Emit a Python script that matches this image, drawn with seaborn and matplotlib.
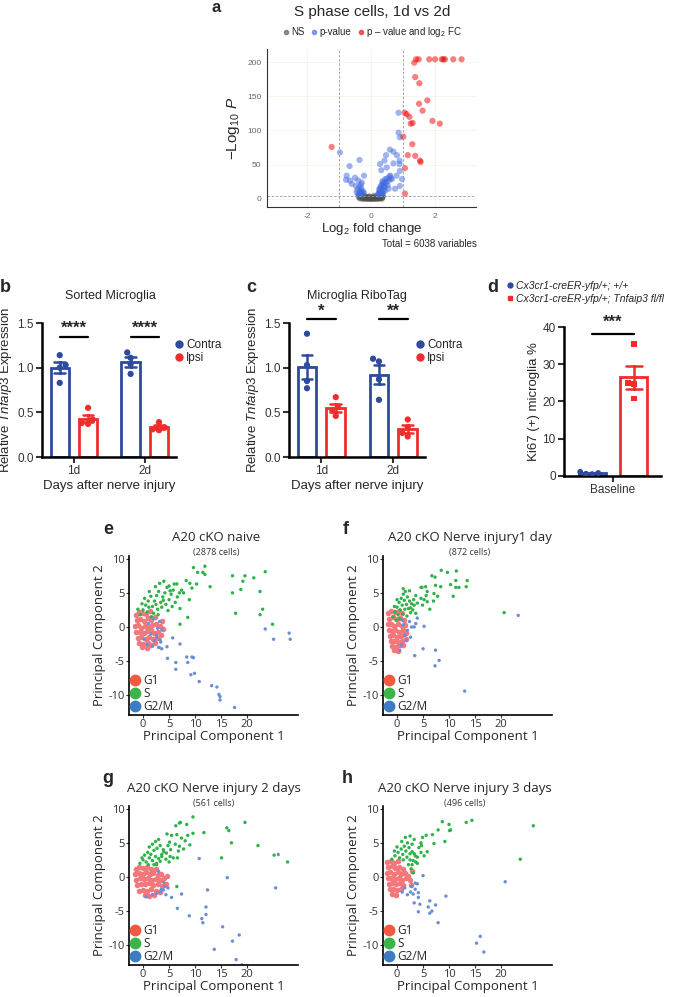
import numpy as np
import pandas as pd
import seaborn as sns
import matplotlib
matplotlib.use('Agg')
from matplotlib import pyplot as plt
from matplotlib.lines import Line2D

# ---------------- data ----------------
# a: volcano (log2 fold change, -log10 p)
ns_pts = [(-0.36, 1.2), (-0.33, 2.8), (-0.3, 0.5), (-0.28, 3.9), (-0.26, 1.8), (-0.24, 0.3), (-0.22, 2.5),
          (-0.2, 4.4), (-0.18, 1.1), (-0.16, 0.2), (-0.14, 3.0), (-0.12, 0.8), (-0.1, 1.9), (-0.08, 0.1),
          (-0.06, 2.6), (-0.04, 0.6), (-0.02, 1.4), (0.0, 0.2), (0.02, 0.9), (0.04, 2.1), (0.06, 0.4),
          (0.08, 1.5), (0.1, 0.1), (0.12, 3.2), (0.14, 0.7), (0.16, 1.9), (0.18, 0.3), (0.2, 2.7), (0.22, 1.0),
          (0.24, 4.1), (0.26, 0.5), (0.28, 2.0), (0.3, 3.5), (0.32, 1.3), (0.34, 0.4), (0.36, 2.4),
          (-0.38, 3.3), (0.38, 4.5), (-0.05, 3.8), (0.09, 4.6), (-0.31, 4.7), (0.27, 1.6)]
pval_pts = [(-0.97, 68), (-0.36, 57), (-0.67, 48), (0.86, 126), (0.86, 97), (0.9, 90), (0.59, 72), (0.7, 69),
            (0.47, 64), (0.81, 64), (0.42, 56), (0.89, 56), (0.89, 51), (0.28, 51), (0.7, 52), (0.49, 46),
            (0.32, 42), (0.9, 41), (0.8, 34), (0.6, 34), (0.65, 29), (0.44, 29), (0.36, 24), (0.39, 19),
            (0.97, 29), (0.9, 19), (0.55, 15), (0.75, 15), (-0.76, 34), (-0.22, 34), (-0.5, 31), (-0.78, 28),
            (-0.66, 27), (-0.4, 27), (-0.29, 24), (-0.47, 19), (-0.6, 22),
            (-0.38, 6), (-0.35, 9), (-0.33, 12), (-0.3, 15), (-0.28, 8), (-0.25, 11), (-0.36, 18), (-0.31, 21),
            (-0.4, 7), (-0.27, 6), (-0.22, 9), (-0.45, 10), (-0.42, 14), (-0.33, 7), (-0.3, 10),
            (0.22, 6), (0.25, 9), (0.28, 12), (0.3, 16), (0.33, 20), (0.35, 8), (0.38, 11), (0.4, 14), (0.42, 18),
            (0.45, 22), (0.27, 7), (0.31, 10), (0.36, 26), (0.48, 25), (0.5, 30), (0.52, 20), (0.25, 14),
            (0.55, 27), (0.58, 33), (0.62, 30), (0.23, 8), (0.34, 6), (0.44, 12), (0.29, 18), (0.39, 22)]
fc_pts = [(2.83, 204), (2.57, 204), (2.31, 204), (2.26, 204), (2.21, 204), (2.0, 204), (1.82, 204),
          (1.49, 204), (1.41, 204), (1.35, 199), (1.38, 178), (1.51, 169), (1.76, 144), (1.5, 139),
          (1.61, 129), (1.05, 126), (1.11, 124), (1.2, 120), (1.24, 110), (1.3, 111), (1.92, 114),
          (2.15, 110), (1.01, 91), (1.29, 80), (1.15, 64), (1.38, 63), (1.53, 56), (1.55, 54), (1.06, 45),
          (1.06, 8), (-1.23, 76)]

# b, c: relative Tnfaip3 expression
days = ['1d', '2d']
b_contra = [[1.14, 1.03, 1.00, 0.83], [1.17, 1.11, 1.04, 0.93]]
b_ipsi = [[0.55, 0.42, 0.38, 0.37], [0.39, 0.33, 0.31, 0.30]]
c_contra = [[1.38, 1.03, 0.85, 0.77], [1.10, 1.07, 0.87, 0.64]]
c_ipsi = [[0.67, 0.56, 0.52, 0.46], [0.42, 0.33, 0.27, 0.23]]
b_stars = ['****', '****']
c_stars = ['*', '**']

# d: Ki67+ microglia
d_wt = [1.1, 0.8, 0.6, 0.5]
d_cko = [35.4, 25.0, 24.6, 20.8]

# e-h: PCA of cell-cycle phases (PC1, PC2)
e_g1 = [(-1.4, 1.8), (-0.8, 2.2), (-0.2, 2.0), (0.6, 1.9), (1.3, 2.3), (-1.2, 1.0), (-0.5, 1.2), (0.2, 0.9),
        (0.9, 1.3), (1.6, 1.0), (2.3, 1.5), (-1.5, 0.2), (-0.9, 0.3), (-0.3, -0.1), (0.4, 0.2), (1.1, 0.0),
        (1.8, 0.3), (2.5, 0.4), (3.2, 0.1), (-1.3, -0.7), (-0.6, -0.8), (0.1, -0.9), (0.8, -0.6), (1.5, -0.5),
        (2.2, -0.9), (2.9, -0.7), (-1.0, -1.6), (-0.3, -1.5), (0.5, -1.7), (1.2, -1.4), (1.9, -1.8),
        (2.6, -1.6), (-0.7, -2.4), (0.0, -2.5), (0.9, -2.3), (1.6, -2.6), (2.3, -2.4), (-0.2, -3.0),
        (0.7, -3.1), (3.5, -1.2), (3.8, -0.3), (3.6, 0.9)]
e_s = [(9.7, 8.7), (11.9, 8.9), (10.5, 8.0), (11.5, 8.0), (11.9, 7.7), (8.3, 6.8), (6.5, 6.3), (9.0, 6.4),
       (10.3, 6.3), (9.4, 5.7), (7.4, 5.4), (7.8, 5.0), (12.9, 5.9), (8.9, 4.0), (7.1, 2.7), (8.6, 1.4),
       (7.1, 0.4), (17.2, 7.5), (19.6, 7.5), (19.2, 6.7), (21.3, 7.2), (23.5, 8.1), (17.2, 5.0), (18.8, 5.5),
       (22.5, 5.2), (23.0, 2.6), (22.5, 1.8), (17.8, 2.0), (24.9, 0.4),
       (0.0, 2.5), (0.5, 3.2), (1.0, 3.8), (1.5, 4.5), (0.8, 2.2), (1.8, 3.0), (2.2, 3.8), (2.6, 4.6),
       (3.0, 5.2), (3.4, 3.6), (3.8, 4.4), (4.2, 5.0), (4.6, 5.8), (2.0, 2.0), (2.8, 2.6), (3.6, 2.9),
       (4.4, 3.3), (5.0, 4.0), (5.4, 4.8), (5.8, 5.4), (6.2, 3.6), (6.6, 4.4), (-0.5, 1.8), (-1.0, 2.6),
       (0.3, 4.2), (1.2, 5.2), (2.4, 5.9), (3.2, 6.4), (4.0, 6.7), (5.0, 6.0), (5.6, 3.0), (4.8, 2.4),
       (1.6, 1.5), (2.9, 1.8), (6.0, 6.3), (7.0, 5.0), (-0.2, 3.4), (1.1, 2.9), (2.5, 3.3), (3.9, 3.9),
       (5.2, 5.3)]
e_g2m = [(5.7, -1.6), (7.1, -2.5), (3.1, -3.0), (3.6, -3.2), (4.6, -2.9), (4.7, -4.6), (6.3, -5.2),
         (8.4, -4.4), (9.4, -4.4), (9.7, -4.5), (8.6, -5.2), (6.3, -6.2), (9.2, -7.0), (9.9, -6.8),
         (10.8, -8.0), (13.2, -8.6), (14.2, -8.8), (14.6, -9.9), (14.8, -10.2), (14.8, -10.7), (17.6, -11.8),
         (23.5, -0.3), (25.1, -1.8), (28.1, -0.9), (28.3, -1.8), (2.6, -1.2), (3.6, -0.4), (3.3, -1.9),
         (1.5, -1.0), (2.2, -2.0), (0.8, -2.6), (2.8, -0.2), (3.2, 0.8), (1.0, 0.5), (2.0, 1.2), (2.6, -1.5),
         (0.2, -1.8), (3.4, -2.2), (1.8, -2.8), (3.0, -3.0)]

f_g1 = [(-1.7, 2.0), (-1.1, 2.4), (-0.4, 2.2), (0.3, 2.3), (1.0, 2.0), (-1.5, 1.2), (-0.8, 1.4), (-0.1, 1.1),
        (0.6, 1.3), (1.3, 1.0), (-1.8, 0.4), (-1.2, 0.5), (-0.5, 0.2), (0.2, 0.4), (0.9, 0.1), (1.5, 0.3),
        (-1.6, -0.4), (-1.0, -0.6), (-0.3, -0.5), (0.4, -0.7), (1.1, -0.4), (-1.4, -1.3), (-0.7, -1.2),
        (0.0, -1.4), (0.7, -1.3), (1.4, -1.1), (-1.2, -2.1), (-0.5, -2.0), (0.2, -2.2), (0.9, -2.0),
        (-0.9, -2.8), (-0.2, -2.9), (0.5, -2.7), (-0.5, -3.4), (0.2, -3.5), (1.2, -2.6), (1.8, -1.8),
        (1.7, -0.9)]
f_s = [(8.5, 8.3), (9.7, 8.0), (11.4, 8.2), (6.7, 7.5), (7.3, 7.3), (11.3, 6.8), (13.5, 6.8), (4.6, 5.8),
       (4.8, 5.8), (5.5, 5.9), (7.4, 6.1), (8.4, 5.9), (10.3, 6.2), (11.3, 5.8), (11.9, 5.8), (13.3, 5.9),
       (5.8, 5.2), (7.1, 4.9), (5.6, 4.6), (7.8, 4.5), (10.8, 4.5), (4.6, 4.2), (5.2, 4.0), (5.8, 3.7),
       (7.0, 3.8), (3.9, 3.5), (3.3, 3.2), (4.9, 3.2), (6.3, 2.6), (3.6, 2.0), (3.0, 2.5), (2.6, 2.8),
       (20.6, 2.1),
       (-0.8, 1.5), (-0.4, 2.2), (0.0, 2.9), (0.4, 3.6), (0.8, 4.2), (1.2, 4.8), (1.6, 5.2), (2.0, 4.4),
       (2.4, 3.8), (0.2, 1.8), (0.6, 2.5), (1.0, 3.2), (1.4, 3.9), (1.8, 3.3), (2.2, 2.7), (2.6, 2.1),
       (1.1, 1.9), (1.5, 2.6), (1.9, 1.6), (0.5, 1.2), (-0.2, 1.0), (2.8, 3.4), (3.2, 4.0), (3.6, 4.6),
       (2.4, 5.3), (1.2, 5.6), (0.0, 4.0), (-0.5, 3.0)]
f_g2m = [(23.3, 1.7), (5.2, 0.1), (5.0, -3.2), (7.4, -3.4), (3.4, -4.2), (8.1, -4.9), (7.3, -5.7),
         (13.0, -9.4), (3.6, 0.5), (3.3, 0.0), (3.9, 1.3), (1.5, -1.2), (2.0, -0.5), (1.2, 0.3), (2.4, 0.8),
         (1.8, -2.0), (0.8, -2.6), (2.6, -1.5), (1.0, 1.0), (2.8, 0.0), (0.5, -3.4)]

g_g1 = [(-1.4, 1.2), (-0.7, 1.4), (0.0, 1.3), (0.8, 1.5), (1.6, 1.2), (2.4, 1.1), (-1.5, 0.4), (-0.8, 0.6),
        (-0.1, 0.5), (0.6, 0.7), (1.3, 0.4), (2.0, 0.6), (2.8, 0.3), (3.5, 0.5), (-1.3, -0.4), (-0.6, -0.2),
        (0.1, -0.3), (0.9, -0.1), (1.7, -0.4), (2.5, -0.3), (3.3, -0.5), (4.0, -0.2), (-1.1, -1.2),
        (-0.4, -1.0), (0.4, -1.1), (1.2, -0.9), (2.0, -1.2), (2.8, -1.0), (3.6, -1.3), (-0.8, -2.0),
        (0.0, -1.9), (0.8, -2.1), (1.6, -1.8), (2.4, -2.0), (3.2, -2.2), (0.3, -2.7), (1.2, -2.8),
        (2.1, -2.6), (4.4, -1.0), (4.6, 0.2)]
g_s = [(9.6, 8.8), (7.2, 8.0), (7.0, 7.9), (8.4, 7.7), (6.3, 7.5), (11.7, 6.5), (4.6, 6.3), (5.5, 6.1),
       (6.5, 6.2), (8.6, 6.1), (9.6, 6.4), (7.4, 5.7), (8.1, 5.3), (9.0, 4.7), (5.1, 5.1), (6.2, 4.8),
       (7.0, 4.5), (5.3, 4.0), (4.0, 3.7), (6.8, 3.8), (7.8, 4.1), (5.2, 3.0), (5.8, 2.8), (4.4, 2.6),
       (3.6, 3.0), (6.6, 2.8), (2.6, 2.0), (3.3, 2.3), (2.1, 1.8), (6.5, -1.4), (15.1, 2.8), (16.1, 7.2),
       (16.5, 6.8), (19.6, 8.0), (17.0, 5.0), (22.1, 4.6), (25.2, 3.2), (27.8, 2.2),
       (-0.6, 2.0), (0.0, 2.5), (0.6, 2.2), (1.2, 2.8), (1.8, 2.4), (2.4, 3.0), (3.0, 2.7), (3.6, 3.3),
       (0.3, 3.2), (0.9, 3.6), (1.5, 3.3), (2.1, 3.9), (2.7, 4.2), (3.3, 4.6), (3.9, 4.0), (4.5, 3.5),
       (1.2, 4.4), (1.8, 4.8), (2.4, 5.2), (3.0, 5.5), (-0.2, 2.8), (4.8, 4.6), (5.0, 2.2), (2.6, 1.8),
       (1.0, 1.8)]
g_g2m = [(26.0, 3.3), (10.8, 2.7), (16.2, -0.1), (25.5, -1.6), (12.4, -1.9), (7.4, -2.5), (5.5, -3.0),
         (3.3, -2.2), (3.9, -1.9), (4.2, -1.4), (6.6, -4.6), (12.1, -4.4), (8.9, -5.7), (11.3, -6.1),
         (11.5, -6.7), (12.1, -5.5), (15.3, -7.3), (18.5, -8.5), (17.2, -9.4), (13.7, -10.6), (17.9, -12.1),
         (19.0, -12.9), (3.5, -1.8), (4.0, -0.8), (2.6, -2.4), (4.4, -2.6), (3.0, 0.8), (1.8, -2.6),
         (4.8, -1.6), (0.6, -2.9)]

h_g1 = [(-1.9, 2.2), (-1.2, 2.4), (-0.5, 2.1), (0.2, 2.3), (-1.7, 1.4), (-1.0, 1.6), (-0.3, 1.3), (0.4, 1.5),
        (1.1, 1.2), (-2.0, 0.6), (-1.3, 0.7), (-0.6, 0.5), (0.1, 0.7), (0.8, 0.4), (1.5, 0.6), (2.2, 0.2),
        (-1.8, -0.2), (-1.1, -0.1), (-0.4, -0.3), (0.3, -0.1), (1.0, -0.4), (1.7, -0.2), (2.5, -0.5),
        (-1.6, -1.0), (-0.9, -0.9), (-0.2, -1.1), (0.5, -0.9), (1.2, -1.2), (-1.4, -1.8), (-0.7, -1.7),
        (0.0, -1.9), (0.7, -1.8), (-0.9, -2.5), (-0.2, -2.6), (2.8, 0.9), (2.6, -1.2)]
h_s = [(8.7, 8.1), (10.0, 7.7), (10.3, 6.9), (10.1, 6.8), (13.3, 8.0), (14.4, 8.3), (7.9, 6.9), (26.2, 7.5),
       (5.6, 6.1), (6.8, 6.2), (4.9, 5.8), (9.2, 5.2), (7.1, 4.9), (4.6, 5.0), (4.7, 4.6), (4.2, 4.3),
       (5.8, 3.7), (4.6, 3.6), (2.9, 3.7), (3.3, 3.4), (3.5, 3.1), (3.9, 2.9), (5.2, 3.1), (3.9, 2.0),
       (3.6, 2.2), (23.7, 2.6), (2.5, 2.5), (2.9, 1.8), (2.7, 1.2), (3.1, 0.6),
       (-1.0, 2.6), (-0.4, 3.1), (0.2, 3.6), (0.8, 4.1), (1.4, 4.5), (2.0, 5.0), (0.5, 2.8), (1.1, 3.3),
       (1.7, 3.8), (2.3, 4.3), (2.9, 4.8), (0.0, 4.4), (0.9, 5.2), (1.6, 5.8), (2.5, 6.0), (1.2, 2.5),
       (1.9, 2.9), (2.5, 3.4), (3.1, 2.4), (-0.5, 3.8), (2.2, 1.8), (3.3, 5.5)]
h_g2m = [(20.8, -0.7), (5.0, 0.2), (3.5, -0.9), (3.9, -1.0), (2.8, -1.4), (3.5, -1.8), (4.1, -2.3),
         (3.1, -2.5), (2.6, -2.2), (9.4, -2.8), (4.1, -3.0), (6.3, -3.5), (7.4, -4.1), (3.3, -3.8),
         (4.4, -4.0), (6.0, -4.4), (6.7, -5.0), (6.3, -5.3), (4.1, -5.1), (7.9, -6.7), (16.0, -8.7),
         (15.3, -9.7), (16.7, -11.0), (1.5, -1.6), (2.0, -2.6), (1.0, -2.2)]

# ---------------- style ----------------
sns.set_style('white')
plt.rcParams['font.family'] = ['Liberation Sans', 'DejaVu Sans']
plt.rcParams['mathtext.fontset'] = 'custom'
plt.rcParams['mathtext.rm'] = 'Liberation Sans'
plt.rcParams['mathtext.it'] = 'Liberation Sans:italic'
plt.rcParams['mathtext.bf'] = 'Liberation Sans:bold'
plt.rcParams['axes.unicode_minus'] = False

W, H = 688, 997
fig = plt.figure(figsize=(W / 100, H / 100), dpi=100)


def px_axes(l, t, r, b):
    return fig.add_axes([l / W, 1 - b / H, (r - l) / W, (b - t) / H])


def fpx(x, y):
    return (x / W, 1 - y / H)


def label(x, y, s, size=13):
    fig.text(*fpx(x, y), s, fontsize=size, fontweight='bold', ha='center', va='center')


blue = '#2d4a9c'
red = '#ee2d2d'

# ---------------- a ----------------
ax = px_axes(267, 49, 476, 207)
vol = pd.concat([
    pd.DataFrame(ns_pts, columns=['fc', 'p']).assign(grp='NS'),
    pd.DataFrame(pval_pts, columns=['fc', 'p']).assign(grp='p-value'),
    pd.DataFrame(fc_pts, columns=['fc', 'p']).assign(grp='both'),
])
vol_pal = {'NS': '#4d4d4d', 'p-value': '#4169e1', 'both': '#ee0000'}
ax.grid(True, color='#f3f3e6', lw=0.5)
ax.set_axisbelow(True)
sns.scatterplot(data=vol, x='fc', y='p', hue='grp', palette=vol_pal, alpha=0.5, s=20,
                linewidth=0, legend=False, ax=ax)
ax.axvline(-1, color='#999999', lw=0.6, ls=(0, (3, 2)))
ax.axvline(1, color='#999999', lw=0.6, ls=(0, (3, 2)))
ax.axhline(5, color='#999999', lw=0.6, ls=(0, (3, 2)))
ax.set_xlim(-3.25, 3.28)
ax.set_ylim(-11.7, 219)
ax.set_xticks([-2, 0, 2])
ax.set_yticks([0, 50, 100, 150, 200])
for sp in ['top', 'right']:
    ax.spines[sp].set_visible(False)
for sp in ['left', 'bottom']:
    ax.spines[sp].set_color('#333333')
    ax.spines[sp].set_linewidth(0.8)
ax.tick_params(labelsize=6, colors='#666666', length=2, width=0.6, pad=2)
ax.set_xlabel('Log$_2$ fold change', fontsize=9.5, labelpad=1)
ax.set_ylabel('\u2212Log$_{10}$ $P$', fontsize=11, labelpad=4)
leg_h = [Line2D([], [], marker='o', ls='', color=vol_pal[k], alpha=0.6, markersize=3, label=t)
         for k, t in [('NS', 'NS'), ('p-value', 'p-value'), ('both', 'p \u2013 value and log$_2$ FC')]]
fig.legend(handles=leg_h, loc='center', bbox_to_anchor=fpx(372, 32), ncol=3, frameon=False, fontsize=7,
           handletextpad=0.1, columnspacing=0.6, handlelength=0.8, borderpad=0)
fig.text(*fpx(372, 12), 'S phase cells, 1d vs 2d', fontsize=11, ha='center', va='center')
fig.text(*fpx(477, 244), 'Total = 6038 variables', fontsize=7, ha='right', va='center')
label(216, 7, 'a', 12)


# ---------------- b, c ----------------
def bar_panel(ax, contra, ipsi, stars, line_y, star_y, title, title_x, legend_x):
    rows = []
    for d, cv, iv in zip(days, contra, ipsi):
        rows += [(d, 'Contra', v) for v in cv] + [(d, 'Ipsi', v) for v in iv]
    df = pd.DataFrame(rows, columns=['day', 'side', 'val'])
    pal = {'Contra': blue, 'Ipsi': red}
    sns.barplot(data=df, x='day', y='val', hue='side', hue_order=['Contra', 'Ipsi'], palette=pal,
                fill=False, errorbar='se', capsize=0.3, gap=0.35, linewidth=2, err_kws={'linewidth': 1.8},
                legend=False, ax=ax)
    sns.swarmplot(data=df, x='day', y='val', hue='side', hue_order=['Contra', 'Ipsi'], palette=pal,
                  dodge=True, size=4.5, legend=False, ax=ax)
    ax.set_xlim(-0.45, 1.44)
    ax.set_ylim(0, 1.5)
    ax.set_yticks([0, 0.5, 1.0, 1.5])
    ax.set_yticklabels(['0.0', '0.5', '1.0', '1.5'])
    for i, st in enumerate(stars):
        ax.plot([i - 0.2, i + 0.2], [line_y, line_y], color='black', lw=1.6, clip_on=False)
        ax.text(i, star_y, st, ha='center', va='center', fontsize=12, fontweight='bold')
    for sp in ['top', 'right']:
        ax.spines[sp].set_visible(False)
    for sp in ['left', 'bottom']:
        ax.spines[sp].set_color('black')
        ax.spines[sp].set_linewidth(1.8)
    ax.tick_params(labelsize=8.5, colors='#333333', length=4, width=1.5, direction='out', pad=2,
                   left=True, bottom=True)
    ax.set_xlabel('Days after nerve injury', fontsize=9.5, labelpad=2)
    ax.set_ylabel(r'Relative $\it{Tnfaip3}$ Expression', fontsize=9.5, labelpad=2)
    fig.text(*fpx(title_x, 296), title, fontsize=9, ha='center', va='center')
    hs = [Line2D([], [], marker='o', ls='', color=pal[k], markersize=5, label=k) for k in pal]
    fig.legend(handles=hs, loc='upper left', bbox_to_anchor=fpx(legend_x, 339), frameon=False,
               fontsize=8.5, handletextpad=0.1, labelspacing=0.1, borderpad=0, borderaxespad=0,
               handlelength=1.0)


ax = px_axes(42, 323, 176, 457)
bar_panel(ax, b_contra, b_ipsi, b_stars, 1.34, 1.44, 'Sorted Microglia', 110, 173)
label(5, 287, 'b')

ax = px_axes(289, 323, 425, 457)
bar_panel(ax, c_contra, c_ipsi, c_stars, 1.55, 1.63, 'Microglia RiboTag', 357, 414)
label(251, 288, 'c')

# ---------------- d ----------------
ax = px_axes(564, 327, 661, 476)
d_df = pd.DataFrame({'grp': 'Baseline',
                     'geno': ['wt'] * len(d_wt) + ['cko'] * len(d_cko),
                     'val': d_wt + d_cko})
d_pal = {'wt': blue, 'cko': red}
sns.barplot(data=d_df, x='grp', y='val', hue='geno', hue_order=['wt', 'cko'], palette=d_pal, fill=False,
            errorbar='se', capsize=0.3, gap=0.35, linewidth=2, err_kws={'linewidth': 1.8}, legend=False, ax=ax)
sns.swarmplot(data=d_df[d_df.geno == 'wt'], x='grp', y='val', hue='geno', hue_order=['wt', 'cko'],
              palette=d_pal, dodge=True, size=4.2, marker='o', legend=False, ax=ax)
sns.swarmplot(data=d_df[d_df.geno == 'cko'], x='grp', y='val', hue='geno', hue_order=['wt', 'cko'],
              palette=d_pal, dodge=True, size=4.2, marker='s', legend=False, ax=ax)
ax.set_xlim(-0.47, 0.46)
ax.set_ylim(0, 40)
ax.set_yticks([0, 10, 20, 30, 40])
ax.plot([-0.2, 0.2], [38.1, 38.1], color='black', lw=1.6, clip_on=False)
ax.text(0, 41.2, '***', ha='center', va='center', fontsize=12, fontweight='bold')
for sp in ['top', 'right']:
    ax.spines[sp].set_visible(False)
for sp in ['left', 'bottom']:
    ax.spines[sp].set_color('black')
    ax.spines[sp].set_linewidth(1.8)
ax.tick_params(labelsize=8.5, colors='#333333', length=4, width=1.5, direction='out', pad=2,
               left=True, bottom=True)
ax.set_xlabel('')
ax.set_ylabel('Ki67 (+) microglia %', fontsize=9.5, labelpad=2)
hs = [Line2D([], [], marker='o', ls='', color=blue, markersize=3.5, label='Cx3cr1-creER-yfp/+; +/+'),
      Line2D([], [], marker='s', ls='', color=red, markersize=3.5, label='Cx3cr1-creER-yfp/+; Tnfaip3 fl/fl')]
fig.legend(handles=hs, loc='upper left', bbox_to_anchor=fpx(506, 281), frameon=False,
           prop={'size': 7.5, 'style': 'italic'}, handletextpad=0.2, labelspacing=0.3, borderpad=0,
           borderaxespad=0, handlelength=0.8)
label(493, 287, 'd')

# ---------------- e-h ----------------
pc_pal = {'G1': '#f4777c', 'S': '#2db34a', 'G2/M': '#6a8ed8'}
leg_pal = {'G1': '#f15a40', 'S': '#3bb54a', 'G2/M': '#3d7cc4'}
pc_font = ['Open Sans', 'DejaVu Sans']


def pca_panel(ax, g1, s, g2m, title, cells, cx, ty):
    df = pd.concat([
        pd.DataFrame(g1, columns=['pc1', 'pc2']).assign(phase='G1'),
        pd.DataFrame(s, columns=['pc1', 'pc2']).assign(phase='S'),
        pd.DataFrame(g2m, columns=['pc1', 'pc2']).assign(phase='G2/M'),
    ])
    sns.scatterplot(data=df[df.phase == 'G1'], x='pc1', y='pc2', color=pc_pal['G1'], s=16, linewidth=0,
                    ax=ax, legend=False)
    sns.scatterplot(data=df[df.phase != 'G1'], x='pc1', y='pc2', hue='phase', palette=pc_pal, s=6,
                    linewidth=0, ax=ax, legend=False)
    ax.set_xlim(-2.7, 29.8)
    ax.set_ylim(-12.9, 10.4)
    ax.set_xticks([0, 5, 10, 15, 20])
    ax.set_yticks([-10, -5, 0, 5, 10])
    for sp in ['top', 'right']:
        ax.spines[sp].set_visible(False)
    for sp in ['left', 'bottom']:
        ax.spines[sp].set_color('black')
        ax.spines[sp].set_linewidth(1.2)
    ax.tick_params(labelsize=8, colors='#333333', length=2, width=0.8, pad=1, left=True, bottom=True)
    for t in ax.get_xticklabels() + ax.get_yticklabels():
        t.set_family(pc_font)
    ax.set_xlabel('Principal Component 1', fontsize=9.5, family=pc_font, labelpad=0)
    ax.set_ylabel('Principal Component 2', fontsize=9.5, family=pc_font, labelpad=2)
    hs = [Line2D([], [], marker='o', ls='', color=leg_pal[k], markersize=7.5, label=k) for k in leg_pal]
    ax.legend(handles=hs, loc='lower left', bbox_to_anchor=(0.0, 0.01), frameon=False,
              prop={'size': 8.5, 'family': pc_font}, handletextpad=0.2, labelspacing=0.0, borderpad=0,
              borderaxespad=0, handlelength=1.0)
    fig.text(*fpx(cx, ty), title, fontsize=9.5, family=pc_font, ha='center', va='center')
    fig.text(*fpx(cx, ty + 15), cells, fontsize=6.5, family=pc_font, ha='center', va='center',
             color='#333333')


ax = px_axes(129, 556, 298, 715)
pca_panel(ax, e_g1, e_s, e_g2m, 'A20 cKO naive', '(2878 cells)', 216, 537)
label(108, 530, 'e')

ax = px_axes(383, 556, 552, 715)
pca_panel(ax, f_g1, f_s, f_g2m, 'A20 cKO Nerve injury1 day', '(872 cells)', 470, 537)
label(346, 530, 'f')

ax = px_axes(129, 806, 298, 965)
pca_panel(ax, g_g1, g_s, g_g2m, 'A20 cKO Nerve injury 2 days', '(561 cells)', 214, 788)
label(108, 778, 'g')

ax = px_axes(383, 806, 552, 965)
pca_panel(ax, h_g1, h_s, h_g2m, 'A20 cKO Nerve injury 3 days', '(496 cells)', 465, 788)
label(347, 778, 'h')

fig.savefig('out.png', dpi=100)
